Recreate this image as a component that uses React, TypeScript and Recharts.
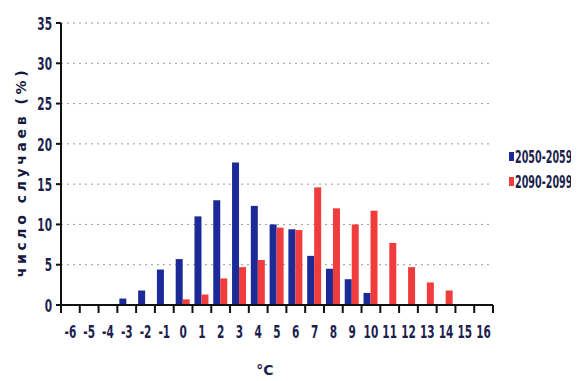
import { BarChart, Bar, XAxis, YAxis, CartesianGrid, Legend } from 'recharts';

const temps = ['-6', '-5', '-4', '-3', '-2', '-1', '0', '1', '2', '3', '4', '5', '6', '7', '8', '9', '10', '11', '12', '13', '14', '15', '16'];
const period2050 = [0, 0, 0, 0.8, 1.8, 4.4, 5.7, 11, 13, 17.7, 12.3, 10, 9.4, 6.1, 4.5, 3.2, 1.5, 0, 0, 0, 0, 0, 0];
const period2090 = [0, 0, 0, 0, 0, 0, 0.7, 1.3, 3.3, 4.7, 5.6, 9.6, 9.3, 14.6, 12, 10, 11.7, 7.7, 4.7, 2.8, 1.8, 0, 0];
const yTicks = [0, 5, 10, 15, 20, 25, 30, 35];

const data = temps.map((t, i) => ({ t, a: period2050[i], b: period2090[i] }));

const font = "'DejaVu Sans', sans-serif";
const ink = '#1c1f4e';

// squeezed bold digits, like the narrow font in the original
function NarrowText({ x, y, anchor, children }: any) {
    return (
        <text transform={`translate(${x},${y}) scale(0.66,1.12)`} textAnchor={anchor} dominantBaseline="central"
            fontFamily={font} fontWeight="bold" fontSize={16} fill={ink}>
            {children}
        </text>
    );
}

// tick marks sit on the category edges, labels in the middle
function XTick(props: any) {
    const { x, y, payload, index } = props;
    const half = Number(payload && payload.offset) || 0;
    const last = index === temps.length - 1;
    const top = y - 8;
    return (
        <g>
            <rect x={x - half - 1} y={top} width={2} height={8} fill="#111" />
            {last && <rect x={x + half - 1} y={top} width={2} height={8} fill="#111" />}
            <NarrowText x={x} y={top + 26} anchor="middle">{payload.value}</NarrowText>
        </g>
    );
}

function YTick(props: any) {
    const { x, y, payload } = props;
    return <NarrowText x={x} y={y} anchor="end">{payload.value}</NarrowText>;
}

function LegendBox(props: any) {
    const items = props.payload || [];
    return (
        <div style={{ fontFamily: font, fontWeight: 'bold', fontSize: 15, color: ink }}>
            {items.map((item: any) => (
                <div key={item.value} style={{ display: 'flex', alignItems: 'center', height: 25, whiteSpace: 'nowrap' }}>
                    <span style={{ flex: '0 0 5px', height: 9, background: item.color, marginRight: 1 }} />
                    <span style={{ display: 'inline-block', transform: 'scale(0.64,1.12)', transformOrigin: 'left center' }}>{item.value}</span>
                </div>
            ))}
        </div>
    );
}

export default function App() {
    return (
        <div style={{ width: 571, height: 373, background: '#fff' }}>
            <BarChart width={571} height={373} data={data} margin={{ top: 15, right: 86, bottom: 0, left: 0 }} barGap={0} barSize={7}>
                <CartesianGrid vertical={false} stroke="#9a9a9a" strokeDasharray="2 4" />
                <XAxis
                    dataKey="t"
                    interval={0}
                    height={76}
                    tickLine={false}
                    axisLine={{ stroke: '#111', strokeWidth: 2 }}
                    tick={<XTick />}
                    label={{ value: '°C', position: 'insideBottom', offset: 6, dx: -12, style: { fontFamily: font, fontWeight: 'bold', fontSize: 14, fill: ink } }}
                />
                <YAxis
                    width={53}
                    domain={[0, 35]}
                    ticks={yTicks}
                    interval={0}
                    tickSize={5}
                    tickMargin={4}
                    axisLine={{ stroke: '#111', strokeWidth: 2 }}
                    tickLine={{ stroke: '#111', strokeWidth: 2 }}
                    tick={<YTick />}
                    label={{ value: 'число случаев (%)', angle: -90, position: 'insideLeft', offset: 13, dy: 8, style: { textAnchor: 'middle', fontFamily: font, fontWeight: 'bold', fontSize: 14, letterSpacing: 3.6, fill: '#15183f' } }}
                />
                <Legend
                    layout="vertical"
                    align="center"
                    verticalAlign="middle"
                    wrapperStyle={{ left: 501, top: 136, width: 70 }}
                    content={<LegendBox />}
                />
                <Bar dataKey="a" name="2050-2059" fill="#1b2a96" isAnimationActive={false} />
                <Bar dataKey="b" name="2090-2099" fill="#f03c3c" isAnimationActive={false} />
            </BarChart>
        </div>
    );
}
